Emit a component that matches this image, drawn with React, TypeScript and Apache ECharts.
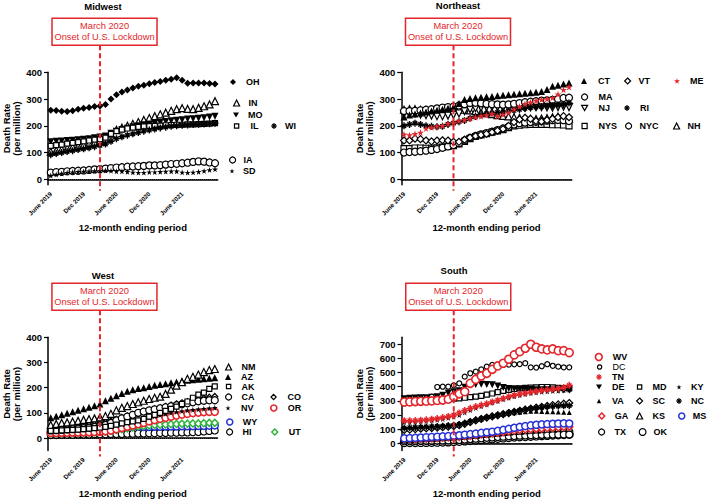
import React, { useEffect, useRef } from 'react';
import * as echarts from 'echarts';

// ---------- categories / ticks ----------
const months = [
  'June 2019', 'July 2019', 'Aug 2019', 'Sept 2019', 'Oct 2019', 'Nov 2019', 'Dec 2019',
  'Jan 2020', 'Feb 2020', 'March 2020', 'Apr 2020', 'May 2020', 'June 2020', 'July 2020',
  'Aug 2020', 'Sept 2020', 'Oct 2020', 'Nov 2020', 'Dec 2020', 'Jan 2021', 'Feb 2021',
  'March 2021', 'Apr 2021', 'May 2021', 'June 2021', 'July 2021', 'Aug 2021', 'Sept 2021',
  'Oct 2021', 'Nov 2021', 'Dec 2021',
];
const LOCKDOWN = 'March 2020';
const yTicks400 = [0, 100, 200, 300, 400];
const yTicks700 = [0, 100, 200, 300, 400, 500, 600, 700];

// ---------- Midwest ----------
const OH = [258,257,254,253,256,262,266,268,272,274,280,300,316,326,334,341,348,352,357,362,366,370,374,380,370,359,360,360,360,358,356];
const IN = [103,108,112,116,120,124,128,133,138,144,152,168,185,193,200,207,214,222,229,236,243,249,256,262,266,263,262,267,273,280,292];
const MO = [140,142,143,145,146,148,150,152,155,158,162,172,180,186,191,196,200,204,207,210,213,216,219,221,223,225,226,228,230,233,236];
const IL = [125,128,130,133,136,139,142,145,148,150,156,170,180,186,190,193,196,198,199,200,201,202,203,204,204,205,205,206,207,208,210];
const WI = [92,96,100,104,107,111,114,118,122,127,132,142,152,159,165,170,175,180,184,188,192,195,198,200,202,203,205,206,207,208,210];
const IA = [25,27,28,30,31,32,33,35,37,38,40,42,44,45,47,48,49,50,52,52,53,55,57,58,60,62,65,67,66,63,60];
const SD = [14,18,22,25,27,28,29,30,31,32,33,32,30,30,28,26,25,25,27,27,28,29,30,30,26,25,26,28,31,35,38];

// ---------- Northeast ----------
const CT = [233,240,244,248,252,255,258,262,266,270,283,298,302,305,307,309,310,312,314,316,318,320,322,324,325,328,336,348,352,356,360];
const VT = [145,145,152,150,145,142,145,146,145,140,140,148,156,162,166,170,176,182,188,200,214,224,230,226,218,216,221,226,232,236,232];
const ME = [168,165,170,175,190,194,198,200,208,212,218,222,228,232,236,240,246,236,242,250,262,272,282,288,294,298,300,305,318,335,345];
const MA = [255,255,256,258,260,262,265,268,270,272,276,281,285,286,284,282,281,280,279,280,282,285,288,290,292,294,295,297,300,304,305];
const NJ = [245,246,245,242,240,238,236,236,238,241,246,255,262,266,268,270,271,270,268,266,265,266,268,269,270,270,269,268,270,272,270];
const RI = [200,205,210,205,200,198,196,198,205,210,215,220,228,235,240,245,248,250,252,255,258,262,265,268,270,272,274,275,278,280,285];
const NYS = [115,115,117,117,116,116,118,120,123,126,132,142,152,160,166,171,176,181,186,193,200,202,204,205,205,205,205,204,204,203,200];
const NYC = [100,102,103,105,107,110,113,118,123,128,135,145,155,162,168,173,178,184,190,196,205,210,212,214,215,217,219,221,222,221,218];
const NH = [260,262,262,260,258,258,260,262,264,264,262,260,258,255,250,247,244,240,237,235,232,230,228,226,225,227,229,232,234,232,228];

// ---------- West ----------
const NM = [52,56,60,62,65,68,72,75,78,82,87,96,110,120,127,135,142,148,155,160,164,175,192,208,222,235,243,252,262,270,274];
const AZ = [80,86,92,98,104,110,116,122,128,135,148,158,168,177,186,192,197,200,205,210,213,216,219,222,226,229,231,233,235,237,239];
const AK = [28,28,30,31,32,33,35,37,39,41,44,48,53,58,63,66,70,76,85,92,100,108,116,125,135,145,160,172,180,195,205];
const CA = [30,31,32,34,35,37,39,41,44,48,52,60,70,78,85,92,100,105,110,114,118,122,126,130,134,138,142,146,148,150,150];
const CO = [36,38,40,42,44,46,49,52,55,58,62,68,75,82,88,94,100,106,111,116,121,126,131,136,140,145,150,154,158,162,165];
const NV = [25,27,29,31,33,34,35,37,39,40,42,46,51,56,61,66,71,76,81,86,91,96,100,104,107,110,112,114,116,118,120];
const OR = [20,20,21,21,22,22,23,23,24,25,27,30,35,40,45,50,55,60,66,71,76,80,85,89,93,96,99,101,103,104,104];
const WY = [22,22,23,23,24,25,26,27,28,30,33,38,42,44,45,45,45,44,44,45,45,46,46,46,47,47,47,48,48,49,50];
const UT = [18,18,19,19,20,20,21,22,23,24,26,29,32,35,38,42,45,48,50,52,53,54,55,56,57,57,58,58,59,60,60];
const HI = [12,12,13,13,13,14,14,14,15,15,15,16,16,16,17,17,18,18,19,19,20,20,21,21,22,22,23,24,26,28,30];

// ---------- South ----------
const WV = [292,293,295,297,298,300,303,306,312,330,350,365,424,452,476,495,523,547,566,594,625,648,672,700,679,667,660,667,655,655,641];
const DC = [283,295,305,310,318,330,398,400,400,410,424,471,495,507,523,542,554,555,555,556,558,560,566,537,535,545,559,548,542,537,537];
const TN = [160,160,161,163,166,170,175,182,190,200,215,232,247,260,270,280,292,305,318,330,340,348,355,362,368,374,378,382,386,395,410];
const DE = [315,318,320,322,322,325,330,340,355,365,372,396,412,416,417,416,414,405,395,388,385,382,380,380,379,378,378,377,377,376,375];
const MD = [298,300,302,304,306,308,310,312,314,316,318,322,326,330,336,344,352,362,370,378,384,388,392,394,396,398,398,396,392,390,388];
const KY = [150,150,152,155,158,162,166,172,180,188,200,218,235,250,262,275,288,300,312,322,332,340,348,355,360,364,367,370,372,375,378];
const VA = [100,102,104,107,110,112,115,118,121,125,130,140,152,162,172,182,190,198,205,211,216,220,224,226,226,225,224,223,222,220,218];
const SC = [95,97,100,103,106,108,111,114,118,122,128,138,150,162,172,182,190,198,206,214,222,230,238,245,252,258,264,270,275,280,285];
const NC = [108,110,112,114,116,118,119,121,124,128,133,142,154,164,174,183,192,200,208,216,224,232,240,246,251,255,258,261,263,265,266];
const GA = [28,29,30,32,33,35,37,39,41,43,46,50,54,58,62,66,70,74,79,84,89,94,98,100,102,104,107,110,112,115,118];
const KS = [30,32,34,36,38,40,42,45,48,50,53,56,59,62,66,70,74,77,80,84,87,90,93,96,99,101,103,105,108,110,112];
const MS = [35,37,39,41,43,45,47,49,51,54,57,61,65,69,74,78,82,88,95,102,110,116,122,127,131,134,136,138,140,141,140];
const TX = [15,15,15,16,16,17,18,19,20,22,24,27,30,33,36,39,42,45,47,50,52,54,56,58,59,60,61,62,62,63,63];
const OK = [5,5,5,6,6,7,8,9,10,12,14,17,20,23,26,29,32,35,38,41,44,46,48,50,52,54,56,58,60,62,64];

// ---------- styles ----------
const FONT = 'Liberation Sans';
const BLACK = '#000000';
const WHITE = '#ffffff';
const RED = '#e3262b';
const BLUE = '#2430d8';
const GREEN = '#2fb43a';

const STAR = 'path://M50,0 L61,35 L98,35 L68,57 L79,91 L50,70 L21,91 L32,57 L2,35 L39,35 Z';
const AST = 'path://M40,0 H60 V100 H40 Z M0,40 H100 V60 H0 Z M12,26 L26,12 L88,74 L74,88 Z M74,12 L88,26 L26,88 L12,74 Z';
const DOWN = 'path://M0,0 L100,0 L50,87 Z';
const DIAM = 'path://M50,0 L100,50 L50,100 L0,50 Z';
const UP = 'triangle';
const CIRC = 'circle';
const RECT = 'rect';

const panels = [
  { title: 'Midwest', tx: 103, ty: 6, grid: { left: 47.25, top: 72.3, width: 170.5, height: 112.35 }, min: -20, max: 400, ticks: yTicks400 },
  { title: 'Northeast', tx: 458, ty: 5, grid: { left: 401.25, top: 72.3, width: 170.5, height: 112.35 }, min: -20, max: 400, ticks: yTicks400 },
  { title: 'West', tx: 103, ty: 275, grid: { left: 46.5, top: 337.3, width: 171, height: 113.3 }, min: -50, max: 400, ticks: yTicks400 },
  { title: 'South', tx: 454, ty: 270, grid: { left: 401.5, top: 337.2, width: 170.5, height: 113.2 }, min: -50, max: 750, ticks: yTicks700 },
];

type Spec = { name: string; data: number[]; p: number; sym: string; size: number; fill: string; stroke: string; bw?: number };
const specs: Spec[] = [
  { name: 'OH', data: OH, p: 0, sym: DIAM, size: 7, fill: BLACK, stroke: BLACK },
  { name: 'IN', data: IN, p: 0, sym: UP, size: 7, fill: WHITE, stroke: BLACK },
  { name: 'MO', data: MO, p: 0, sym: DOWN, size: 7, fill: BLACK, stroke: BLACK },
  { name: 'IL', data: IL, p: 0, sym: RECT, size: 5, fill: WHITE, stroke: BLACK },
  { name: 'WI', data: WI, p: 0, sym: AST, size: 7, fill: BLACK, stroke: BLACK },
  { name: 'IA', data: IA, p: 0, sym: CIRC, size: 7, fill: WHITE, stroke: BLACK },
  { name: 'SD', data: SD, p: 0, sym: STAR, size: 6, fill: BLACK, stroke: BLACK },

  { name: 'NH', data: NH, p: 1, sym: UP, size: 7, fill: WHITE, stroke: BLACK },
  { name: 'NYS', data: NYS, p: 1, sym: RECT, size: 6, fill: WHITE, stroke: BLACK },
  { name: 'NYC', data: NYC, p: 1, sym: CIRC, size: 7, fill: WHITE, stroke: BLACK },
  { name: 'VT', data: VT, p: 1, sym: DIAM, size: 7, fill: WHITE, stroke: BLACK },
  { name: 'NJ', data: NJ, p: 1, sym: DOWN, size: 7, fill: WHITE, stroke: BLACK },
  { name: 'MA', data: MA, p: 1, sym: CIRC, size: 7, fill: WHITE, stroke: BLACK },
  { name: 'RI', data: RI, p: 1, sym: AST, size: 7, fill: BLACK, stroke: BLACK },
  { name: 'CT', data: CT, p: 1, sym: UP, size: 7, fill: BLACK, stroke: BLACK },
  { name: 'ME', data: ME, p: 1, sym: STAR, size: 7, fill: RED, stroke: RED },

  { name: 'HI', data: HI, p: 2, sym: CIRC, size: 7, fill: WHITE, stroke: BLACK },
  { name: 'WY', data: WY, p: 2, sym: CIRC, size: 7, fill: WHITE, stroke: BLUE, bw: 1.5 },
  { name: 'UT', data: UT, p: 2, sym: DIAM, size: 7, fill: WHITE, stroke: GREEN, bw: 1.5 },
  { name: 'OR', data: OR, p: 2, sym: CIRC, size: 7, fill: WHITE, stroke: RED, bw: 1.6 },
  { name: 'NV', data: NV, p: 2, sym: STAR, size: 6, fill: BLACK, stroke: BLACK },
  { name: 'CO', data: CO, p: 2, sym: DIAM, size: 6, fill: WHITE, stroke: BLACK },
  { name: 'CA', data: CA, p: 2, sym: CIRC, size: 7, fill: WHITE, stroke: BLACK },
  { name: 'AK', data: AK, p: 2, sym: RECT, size: 5, fill: WHITE, stroke: BLACK },
  { name: 'AZ', data: AZ, p: 2, sym: UP, size: 7, fill: BLACK, stroke: BLACK },
  { name: 'NM', data: NM, p: 2, sym: UP, size: 7, fill: WHITE, stroke: BLACK },

  { name: 'OK', data: OK, p: 3, sym: CIRC, size: 8, fill: WHITE, stroke: BLACK },
  { name: 'TX', data: TX, p: 3, sym: CIRC, size: 7, fill: WHITE, stroke: BLACK },
  { name: 'KS', data: KS, p: 3, sym: UP, size: 7, fill: WHITE, stroke: BLACK },
  { name: 'GA', data: GA, p: 3, sym: DIAM, size: 7, fill: WHITE, stroke: RED, bw: 1.5 },
  { name: 'MS', data: MS, p: 3, sym: CIRC, size: 7, fill: WHITE, stroke: BLUE, bw: 1.5 },
  { name: 'VA', data: VA, p: 3, sym: UP, size: 5, fill: BLACK, stroke: BLACK },
  { name: 'SC', data: SC, p: 3, sym: DIAM, size: 7, fill: WHITE, stroke: BLACK },
  { name: 'NC', data: NC, p: 3, sym: AST, size: 7, fill: BLACK, stroke: BLACK },
  { name: 'MD', data: MD, p: 3, sym: RECT, size: 5, fill: WHITE, stroke: BLACK },
  { name: 'DE', data: DE, p: 3, sym: DOWN, size: 7, fill: BLACK, stroke: BLACK },
  { name: 'KY', data: KY, p: 3, sym: STAR, size: 6, fill: BLACK, stroke: BLACK },
  { name: 'TN', data: TN, p: 3, sym: AST, size: 7, fill: RED, stroke: RED },
  { name: 'DC', data: DC, p: 3, sym: CIRC, size: 5, fill: WHITE, stroke: BLACK },
  { name: 'WV', data: WV, p: 3, sym: CIRC, size: 8, fill: WHITE, stroke: RED, bw: 1.6 },
];

// legend layout: [symbol centre x, centre y, text start x]
const legendPos: Record<string, number[]> = {
  OH: [233, 82, 246], IN: [236, 103, 248], MO: [236, 115, 248], IL: [236, 126, 250], WI: [274, 126, 285],
  IA: [232, 160, 243], SD: [232, 171, 243],
  CT: [584, 81, 598], VT: [627, 81, 638], ME: [677, 81, 690], MA: [584, 97, 598],
  NJ: [584, 108, 598], RI: [627, 108, 640], NYS: [584, 126, 598], NYC: [628, 126, 639], NH: [676, 126, 687],
  NM: [228, 367, 241], AZ: [228, 377, 241], AK: [228, 386.5, 241], CA: [228, 397, 241], CO: [273, 397, 287],
  NV: [228, 408, 241], OR: [273, 408, 287], WY: [229, 422, 242], HI: [229, 432, 242], UT: [274, 432, 288],
  WV: [598, 357, 612], DC: [599, 367, 612], TN: [599, 377, 612], DE: [599, 387, 612], MD: [639, 387, 652],
  KY: [679, 387, 691], VA: [599, 401, 612], SC: [639, 401, 652], NC: [679, 401, 691],
  GA: [601, 416, 614], KS: [639, 416, 652], MS: [681, 416, 692], TX: [601, 432, 614], OK: [642, 432, 653],
};
const LEGEND_ICON_SCALE = 0.85;

function buildOption() {
  const grids = panels.map((p) => ({ ...p.grid, containLabel: false }));
  const xAxes = panels.map((p, i) => ({
    type: 'category',
    gridIndex: i,
    data: months,
    boundaryGap: true,
    axisLine: { lineStyle: { color: BLACK, width: 1.5 } },
    axisTick: { alignWithLabel: true, interval: 0, length: 6, lineStyle: { color: BLACK, width: 1.2 } },
    axisLabel: {
      interval: (idx: number) => idx % 6 === 0 && idx < 30,
      rotate: 45, fontSize: 6.3, fontWeight: 'bold', color: BLACK, margin: 8, fontFamily: FONT,
    },
    name: '12-month ending period',
    nameLocation: 'middle',
    nameGap: 38,
    nameTextStyle: { fontSize: 9.5, fontWeight: 'bold', color: BLACK, fontFamily: FONT },
  }));
  const yAxes = panels.map((p, i) => ({
    type: 'value',
    gridIndex: i,
    min: p.min,
    max: p.max,
    axisLine: { show: true, lineStyle: { color: BLACK, width: 1.5 } },
    axisTick: { show: true, length: 4, customValues: p.ticks, lineStyle: { color: BLACK, width: 1.2 } },
    axisLabel: { customValues: p.ticks, fontSize: 9.5, fontWeight: 'bold', color: BLACK, margin: 6, fontFamily: FONT },
    splitLine: { show: false },
    name: 'Death Rate\n(per million)',
    nameLocation: 'middle',
    nameRotate: 90,
    nameGap: 27,
    nameTextStyle: { fontSize: 9.5, fontWeight: 'bold', color: BLACK, lineHeight: 10, fontFamily: FONT },
  }));
  const firstOfPanel = new Set<number>();
  const series = specs.map((s) => {
    const first = !firstOfPanel.has(s.p);
    firstOfPanel.add(s.p);
    const bw = s.fill === WHITE ? (s.bw ?? 1.2) : 0;
    const ser: any = {
      type: 'scatter',
      name: s.name,
      xAxisIndex: s.p,
      yAxisIndex: s.p,
      data: s.data,
      symbol: s.sym,
      symbolSize: s.size,
      itemStyle: { color: s.fill, borderColor: s.stroke, borderWidth: bw, opacity: 1 },
      emphasis: { disabled: true },
      silent: true,
    };
    if (first) {
      ser.markLine = {
        silent: true,
        symbol: ['none', 'none'],
        label: { show: false },
        lineStyle: { type: 'dotted', color: BLACK, width: 1 },
        data: [{ yAxis: 0 }],
      };
    }
    return ser;
  });
  const legends = specs.map((s) => {
    const [cx, cy, tx] = legendPos[s.name];
    const w = Math.round(s.size * LEGEND_ICON_SCALE * 10) / 10;
    const left = cx - w / 2;
    const bw = s.fill === WHITE ? (s.bw ?? 1.2) : 0;
    return {
      data: [s.name],
      left,
      top: cy - 4.5,
      orient: 'horizontal',
      itemWidth: w,
      itemHeight: w,
      itemGap: 0,
      padding: 0,
      selectedMode: false,
      itemStyle: { borderWidth: bw, borderColor: s.stroke, color: s.fill },
      textStyle: {
        fontSize: 9,
        fontWeight: s.name === 'DC' ? 'normal' : 'bold',
        color: BLACK,
        fontFamily: FONT,
        lineHeight: 9,
        padding: [0, 0, 0, Math.max(0, tx - (left + w + 5))],
      },
    };
  });
  return {
    animation: false,
    backgroundColor: WHITE,
    textStyle: { fontFamily: FONT },
    grid: grids,
    xAxis: xAxes,
    yAxis: yAxes,
    legend: legends,
    series,
  };
}

export default function App() {
  const ref = useRef<HTMLDivElement>(null);
  useEffect(() => {
    document.body.style.margin = '0';
    const chart = echarts.init(ref.current as HTMLDivElement, undefined, { renderer: 'svg' });
    chart.setOption(buildOption() as any);
    const lockIdx = months.indexOf(LOCKDOWN);
    const g: any[] = [];
    panels.forEach((p, i) => {
      const pt = chart.convertToPixel({ gridIndex: i } as any, [lockIdx, 0]) as number[];
      const x = pt[0];
      const boxTop = p.grid.top - 54;
      const bottom = p.grid.top + p.grid.height + 6;
      g.push({
        type: 'text', x: p.tx, y: p.ty, z: 100,
        style: { text: p.title, fill: BLACK, font: `bold 9.5px "${FONT}"`, textAlign: 'center', textVerticalAlign: 'middle', align: 'center', verticalAlign: 'middle' },
      });
      g.push({
        type: 'line', z: 100, silent: true,
        shape: { x1: x, y1: boxTop + 27, x2: x, y2: bottom },
        style: { stroke: RED, lineWidth: 2, lineDash: [5, 3] },
      });
      g.push({
        type: 'rect', z: 100, silent: true,
        shape: { x: x - 48, y: boxTop, width: 105, height: 27 },
        style: { fill: WHITE, stroke: RED, lineWidth: 1.5 },
      });
      g.push({
        type: 'text', x: x + 4.5, y: boxTop + 8, z: 101,
        style: { text: 'March 2020', fill: RED, font: `9.3px "${FONT}"`, textAlign: 'center', textVerticalAlign: 'middle', align: 'center', verticalAlign: 'middle' },
      });
      g.push({
        type: 'text', x: x + 4.5, y: boxTop + 19, z: 101,
        style: { text: 'Onset of U.S. Lockdown', fill: RED, font: `9.3px "${FONT}"`, textAlign: 'center', textVerticalAlign: 'middle', align: 'center', verticalAlign: 'middle' },
      });
    });
    chart.setOption({ graphic: g });
    return () => chart.dispose();
  }, []);
  return <div ref={ref} style={{ width: 708, height: 500 }} />;
}
